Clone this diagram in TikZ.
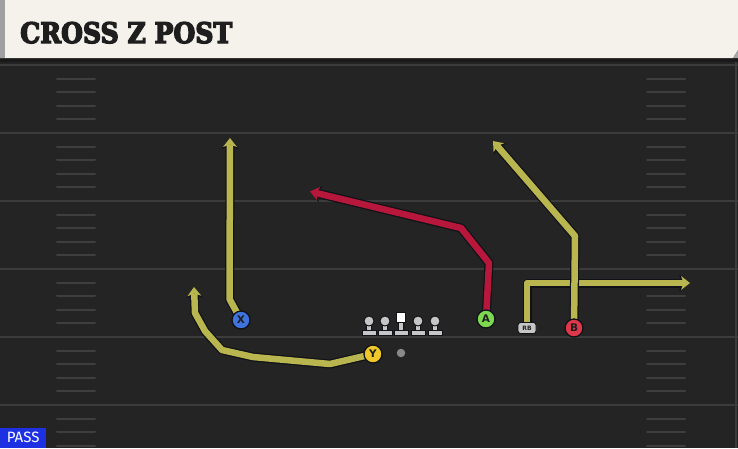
\documentclass[tikz,border=0pt]{standalone}
\usepackage{fontspec}
\usepackage{graphicx}
\usetikzlibrary{arrows.meta,calc}
\newfontfamily\titlefont{DejaVu Serif}[BoldFeatures={FakeBold=5}]
\newfontfamily\pfont{DejaVu Sans}
\newfontfamily\passfont{Fira Sans}
\definecolor{fieldbg}{HTML}{242424}
\definecolor{yardcol}{HTML}{3C3C3C}
\definecolor{hashcol}{HTML}{3E3E3E}
\definecolor{titlebg}{HTML}{F4F2EB}
\definecolor{titleink}{HTML}{1E1E1E}
\definecolor{titleedge}{HTML}{A0A0A0}
\definecolor{routey}{HTML}{BAB64F}
\definecolor{router}{HTML}{B7173B}
\definecolor{routeedge}{HTML}{111118}
\definecolor{xblue}{HTML}{3F73DE}
\definecolor{agreen}{HTML}{7DD850}
\definecolor{yyellow}{HTML}{EEC82A}
\definecolor{bred}{HTML}{E0384B}
\definecolor{lmgray}{HTML}{C6C6C6}
\definecolor{qbgray}{HTML}{8A8A8A}
\definecolor{passblue}{HTML}{1D30E2}
\pgfdeclarelayer{fieldlayer}
\pgfdeclarelayer{routelayer}
\pgfsetlayers{fieldlayer,routelayer,main}
\newcommand\drawroute[2]{\draw[routeout] #2; \draw[#1] #2;}
\begin{document}
\begin{tikzpicture}[x=1pt,y=-1pt,
  yardline/.style={draw=yardcol,line width=2pt},
  hashline/.style={draw=hashcol,line width=2pt,line cap=round},
  player/.style={circle,draw=routeedge,line width=1.3pt,minimum size=18pt,inner sep=0pt,
    text=titleink,font=\pfont\bfseries\fontsize{10.5}{10.5}\selectfont},
  lmhead/.style={circle,fill=lmgray,draw=routeedge,line width=0.9pt,minimum size=10pt,inner sep=0pt},
  lmcenter/.style={rectangle,fill=white,draw=routeedge,line width=0.9pt,minimum size=9.5pt,inner sep=0pt},
  lmbody/.style={fill=lmgray,draw=routeedge,line width=0.9pt},
  rbbox/.style={rectangle,rounded corners=2.5pt,fill=lmgray,draw=routeedge,line width=0.9pt,
    minimum width=18pt,minimum height=11pt,inner sep=0pt,text=titleink,
    font=\pfont\bfseries\fontsize{6}{6}\selectfont},
  qbdot/.style={circle,fill=qbgray,minimum size=8.5pt,inner sep=0pt},
  routeout/.style={draw=routeedge,line width=9pt,line join=round,
    -{Stealth[length=11pt,width=17pt,inset=3pt,line width=0pt]}},
  routeyel/.style={draw=routey,line width=6.5pt,line join=round,
    -{Stealth[length=9pt,width=14pt,inset=2.5pt,line width=0pt]}},
  routered/.style={draw=router,line width=6.5pt,line join=round,
    -{Stealth[length=9pt,width=14pt,inset=2.5pt,line width=0pt]}},
  passbox/.style={rectangle,fill=passblue,text=white,minimum width=46pt,minimum height=20pt,
    inner sep=0pt,font=\passfont\fontsize{15}{15}\selectfont}
]
\useasboundingbox (0,0) rectangle (738,448);
\begin{pgfonlayer}{fieldlayer}
  \fill[fieldbg] (0,0) rectangle (738,448);
  \foreach \y in {65,133,201,269,337,405} {
    \draw[yardline] (0,\y) -- (738,\y);
  }
  \foreach \y in {65,133,201,269,337,405} {
    \foreach \k in {1,2,3,4} {
      \draw[hashline] (57,{\y+13.6*\k}) -- (95,{\y+13.6*\k});
      \draw[hashline] (647,{\y+13.6*\k}) -- (685,{\y+13.6*\k});
    }
  }
  \draw[draw=yardcol,line width=1.5pt] (736,60) -- (736,448);
  % title bar
  \fill[black!90] (0,58) rectangle (738,62);
  \fill[titlebg] (0,0) -- (738,0) -- (738,50) -- (733,58) -- (0,58) -- cycle;
  \fill[titleedge] (0,0) rectangle (5,58);
  \fill[black!35] (733,58) -- (738,50) -- (738,58) -- cycle;
  \node[anchor=base west,inner sep=0pt,text=titleink] (title) at (20,43)
    {\resizebox{212pt}{21pt}{\titlefont\bfseries CROSS Z POST}};
\end{pgfonlayer}

% linemen
\foreach \i/\x in {1/369,2/385,4/418,5/435} {
  \node[lmhead] (L\i) at (\x,321) {};
  \begin{pgfonlayer}{routelayer}
    \filldraw[lmbody] ($(L\i)+(-2.7,2)$) rectangle ($(L\i)+(2.7,10)$);
    \filldraw[lmbody] ($(L\i)+(-7,9)$) rectangle ($(L\i)+(7,14)$);
  \end{pgfonlayer}
}
\node[lmcenter] (C) at (401,317.5) {};
\begin{pgfonlayer}{routelayer}
  \filldraw[lmbody] ($(C)+(-2.7,4)$) rectangle ($(C)+(2.7,13)$);
  \filldraw[lmbody] ($(C)+(-7,12.5)$) rectangle ($(C)+(7,17.5)$);
\end{pgfonlayer}
\node[qbdot] (QB) at (401,353) {};

% skill players
\node[player,fill=xblue] (X) at (241,320) {X};
\node[player,fill=yyellow] (Y) at (373,354) {Y};
\node[player,fill=agreen] (A) at (486,319) {A};
\node[player,fill=bred] (B) at (574,328) {B};
\node[rbbox] (RB) at (527,328) {RB};

\coordinate (xend) at (230,138);
\coordinate (yend) at (194,287);
\coordinate (aend) at (310,191.5);
\coordinate (rbend) at (690,283);
\coordinate (bend) at (493,141);

\begin{pgfonlayer}{routelayer}
  \drawroute{routeyel}{(X.center) -- (229.5,299) -- (xend)}
  \drawroute{routeyel}{(Y.center) -- (330,364) -- (253,357) -- (222,350) -- (205,331) -- (195,313) -- (yend)}
  \drawroute{routered}{(A.center) -- (489,263) -- (461,228) -- (aend)}
  \drawroute{routeyel}{(RB.center) -- (527,283) -- (rbend)}
  \drawroute{routeyel}{(B.center) -- (575,236) -- (bend)}
\end{pgfonlayer}

\node[passbox,anchor=south west] (pass) at (0,448) {PASS};
\end{tikzpicture}
\end{document}
